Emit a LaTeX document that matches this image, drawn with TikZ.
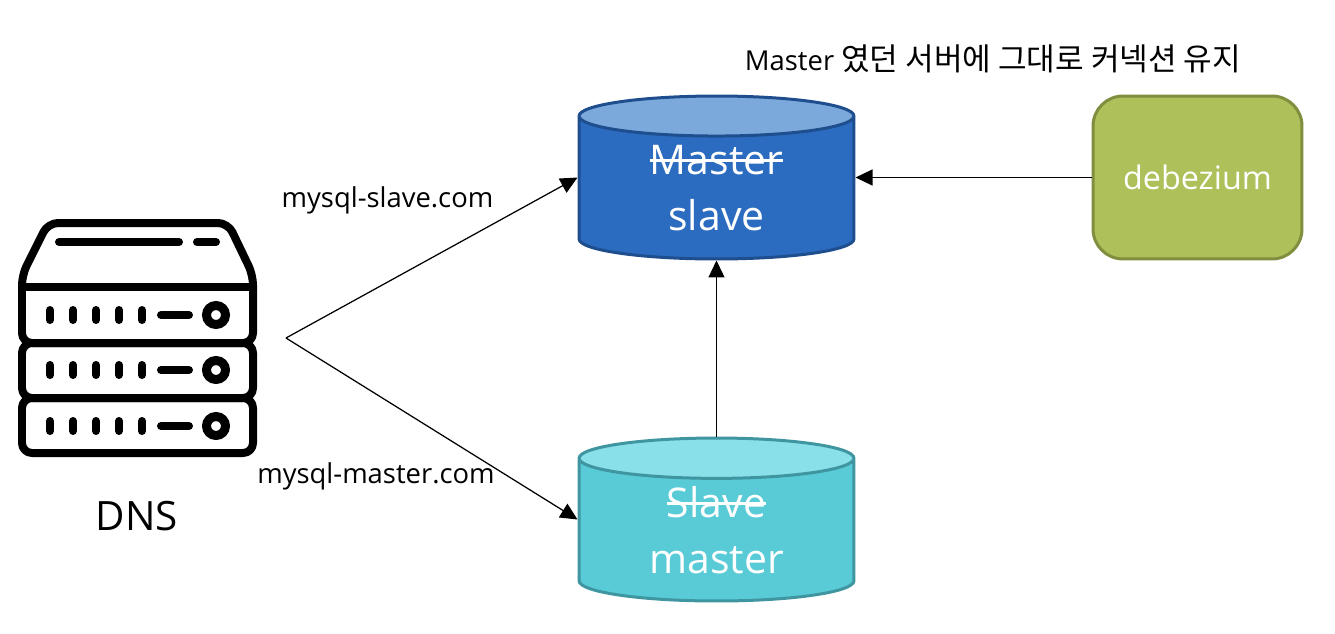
\documentclass[tikz,border=0pt]{standalone}
\usepackage{fontspec}
\setmainfont{Open Sans}
\newfontfamily\krfont{Noto Sans CJK KR}
\usetikzlibrary{arrows.meta,shapes.geometric}
\newcommand{\strikeword}[1]{\setbox0=\hbox{#1}\rlap{\copy0}\rule[0.3em]{\wd0}{0.07em}}
\definecolor{slaveBody}{HTML}{2B6CC0}
\definecolor{slaveTop}{HTML}{7BA9DB}
\definecolor{slaveLine}{HTML}{1F4E8E}
\definecolor{masterBody}{HTML}{58CBD7}
\definecolor{masterTop}{HTML}{8AE0E9}
\definecolor{masterLine}{HTML}{3F96A1}
\definecolor{debeBody}{HTML}{ADC05A}
\definecolor{debeLine}{HTML}{7F8E3F}
\tikzset{
	dbnode/.style={cylinder, shape border rotate=90, aspect=0.3, anchor=shape center, cylinder uses custom fill, draw, line width=0.06cm, minimum width=5.5cm, minimum height=3.26cm, inner sep=0pt, text=white, align=center, font=\fontsize{23.3}{32}\selectfont},
	arrowline/.style={-{Triangle[length=0.34cm,width=0.32cm]}, line width=0.025cm},
	label/.style={font=\fontsize{15.6}{18}\selectfont},
	iconline/.style={line width=0.16cm, line join=round},
	iconbar/.style={line width=0.16cm, line cap=round}
}
\begin{document}
\begin{tikzpicture}[x=0.02cm, y=-0.02cm]
	\useasboundingbox (0, 0) rectangle (1335, 633);

	%%%%% server icon %%%%%
	\draw[iconline, rounded corners=0.2cm] (22, 343) -- (22, 275) -- (48, 223) -- (228, 223) -- (253, 275) -- (253, 343) -- cycle;
	\draw[iconline] (22, 287) -- (253, 287);
	\draw[iconline, rounded corners=0.2cm] (22, 343) rectangle (253, 398);
	\draw[iconline, rounded corners=0.2cm] (22, 398) rectangle (253, 453);
	\draw[iconbar] (59, 242) -- (179, 242);
	\draw[iconbar] (197, 242) -- (216, 242);
	\foreach \rowy in {315, 370, 426} {
		\foreach \tickx in {50, 73, 96, 119, 142}
			\draw[iconbar] (\tickx, \rowy-5) -- (\tickx, \rowy+5);
		\draw[iconbar] (161, \rowy) -- (189, \rowy);
		\draw[line width=0.18cm] (216, \rowy) circle (0.19cm);
	}

	%%%%% nodes %%%%%
	\node[font=\fontsize{23}{28}\selectfont] (dnslabel) at (137, 516) {DNS};
	\coordinate (dnstip) at (286, 338);

	\node[dbnode, draw=slaveLine, cylinder body fill=slaveBody, cylinder end fill=slaveTop] (slavedb) at (716.5, 177.5) {\strikeword{Master}\\slave};
	\node[dbnode, draw=masterLine, cylinder body fill=masterBody, cylinder end fill=masterTop] (masterdb) at (716.5, 519.5) {\strikeword{Slave}\\master};
	\node[draw=debeLine, fill=debeBody, line width=0.06cm, rounded corners=0.6cm, minimum width=4.18cm, minimum height=3.26cm, text=white, font=\fontsize{18.4}{24}\selectfont] (debezium) at (1197.5, 177.5) {debezium};

	\node[label] (slavename) at (387.5, 200) {mysql-slave.com};
	\node[label] (mastername) at (376, 476) {mysql-master.com};
	\node[label] (keepnote) at (993, 59) {Master {\krfont\fontsize{17.7}{18}\selectfont 였던 서버에 그대로 커넥션 유지}};

	%%%%% connectors %%%%%
	\draw[arrowline] (dnstip) -- (slavedb.shape center -| slavedb.west);
	\draw[arrowline] (dnstip) -- (masterdb.shape center -| masterdb.west);
	\draw[arrowline] (masterdb.north) -- (slavedb.south);
	\draw[arrowline] (debezium.west) -- (slavedb.shape center -| slavedb.east);
\end{tikzpicture}
\end{document}
